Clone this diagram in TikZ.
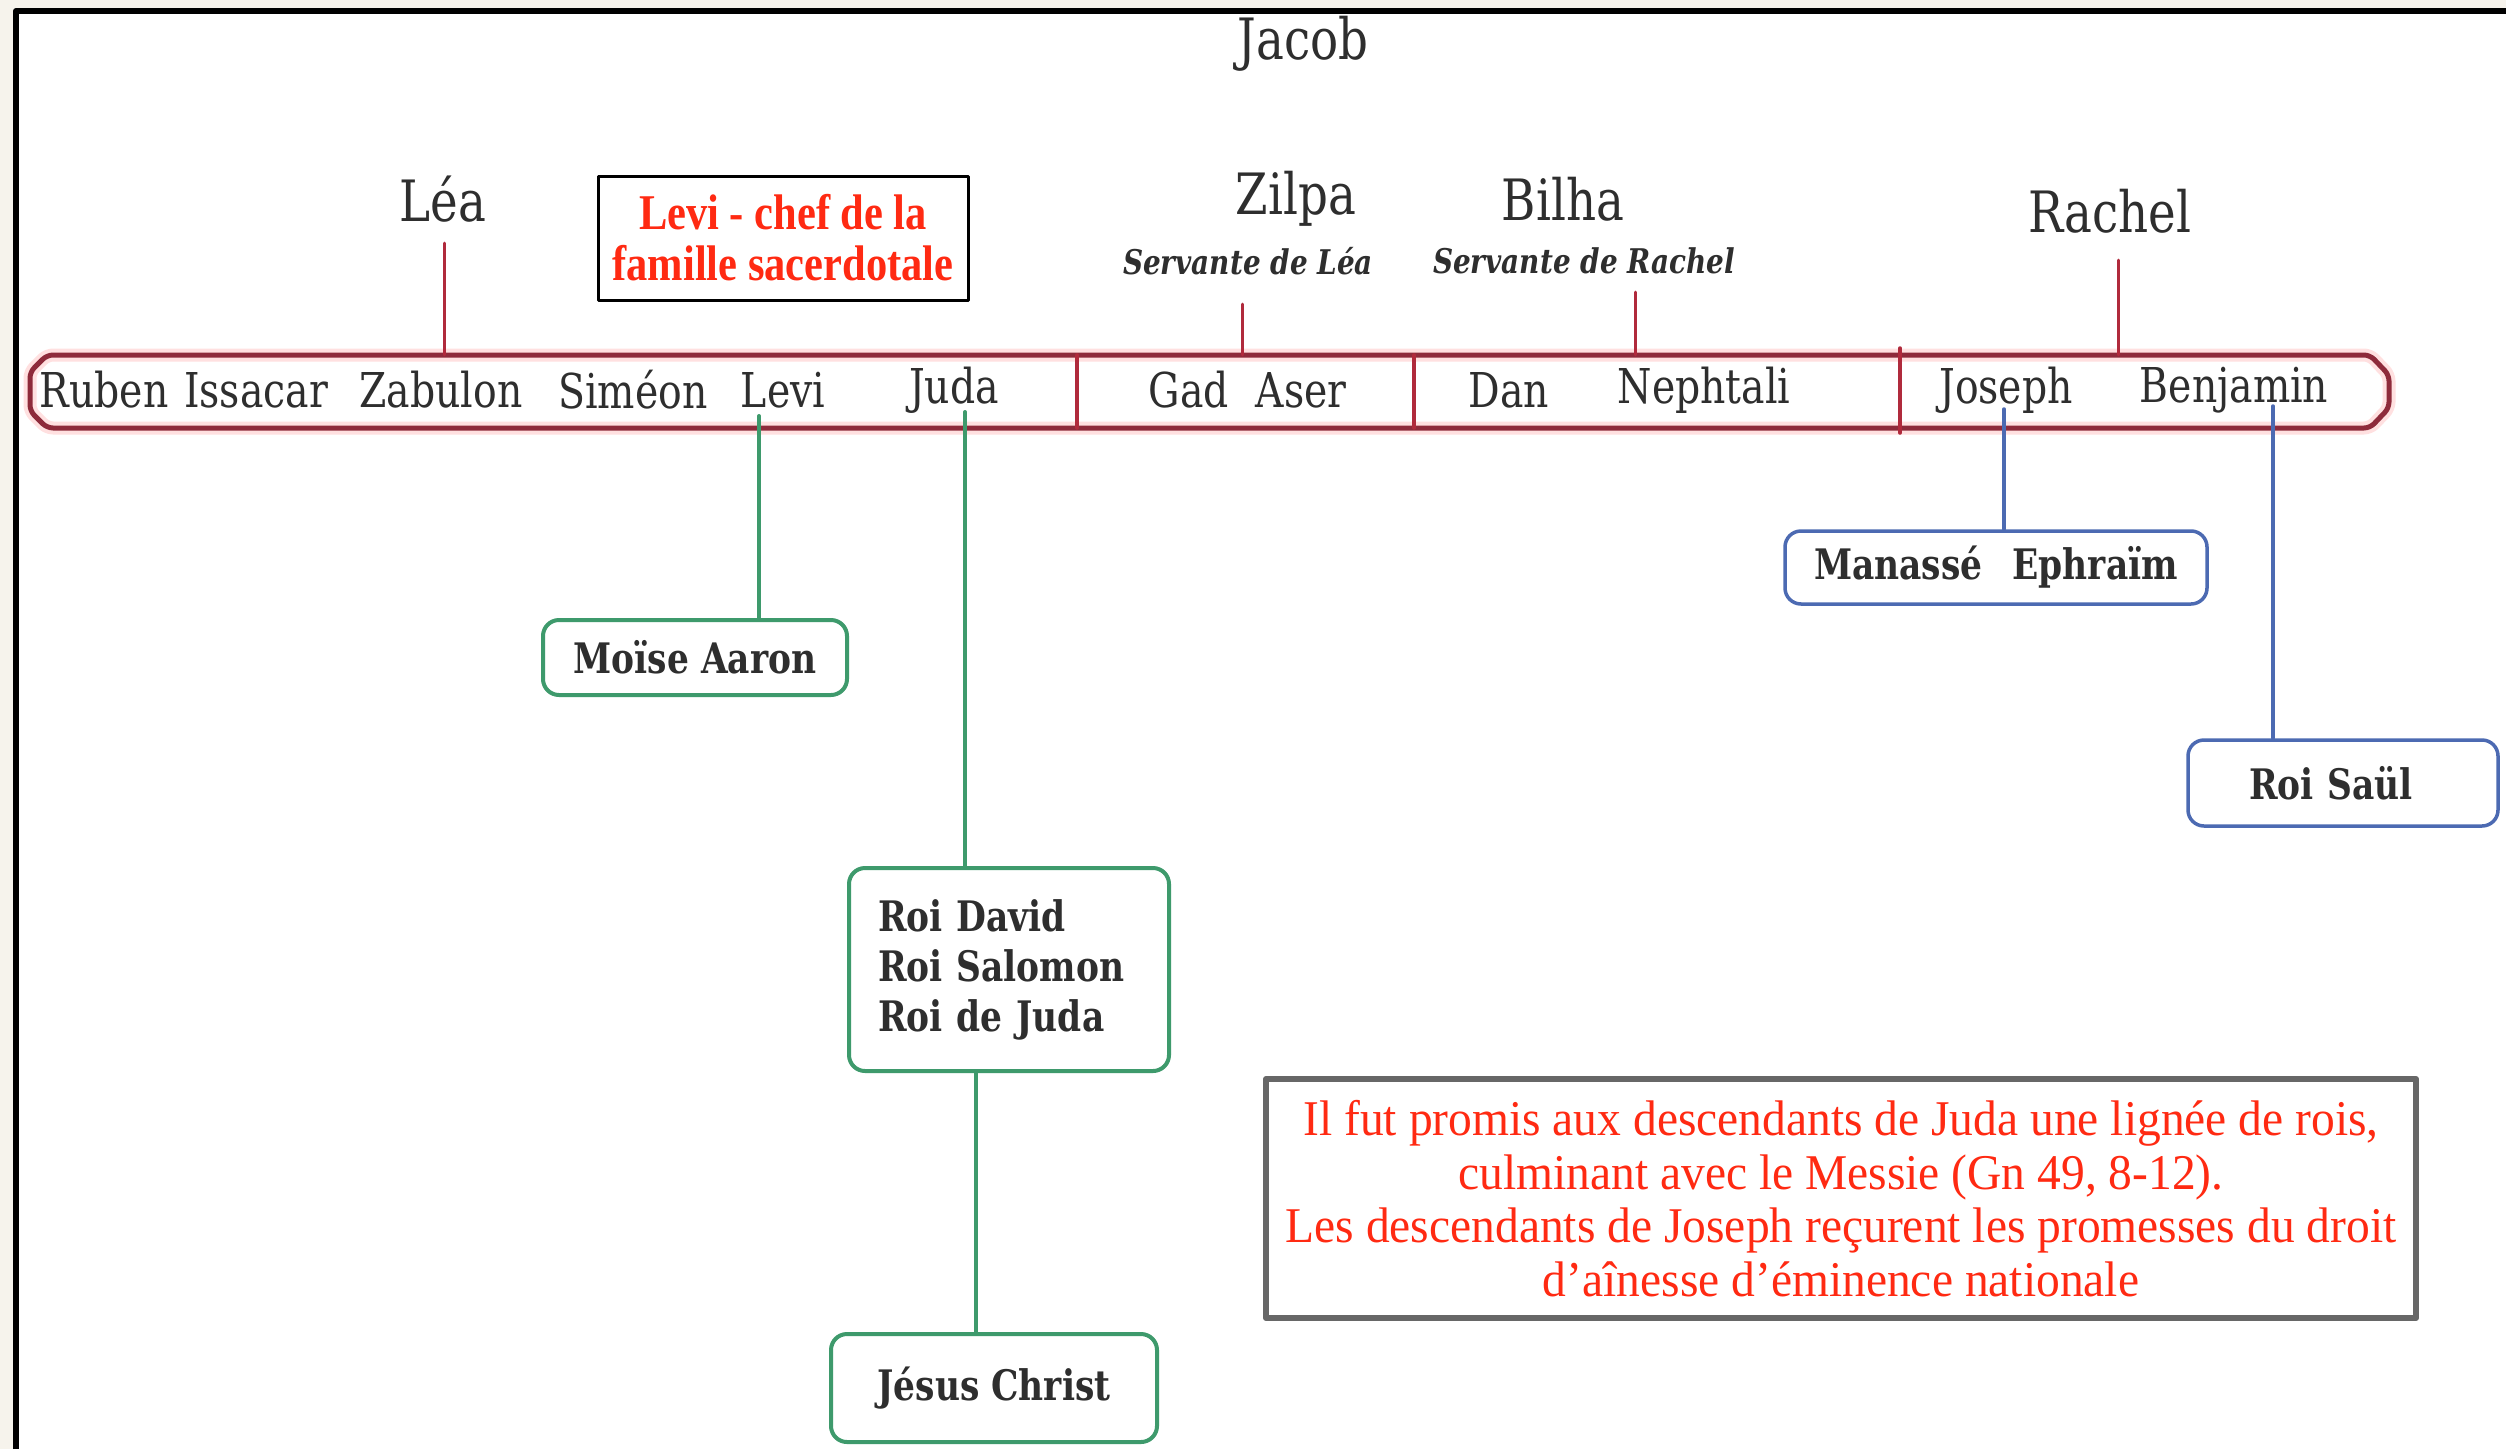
\documentclass[tikz,border=0pt]{standalone}
\usepackage{fontspec}
\setmainfont{DejaVu Serif}[FakeStretch=0.82]
\newfontfamily\notefont{Liberation Serif}[FakeStretch=0.85]
\newfontfamily\notewide{Liberation Serif}[FakeStretch=0.95]
\definecolor{namegray}{HTML}{2E2E2E}
\definecolor{barred}{HTML}{8E2B3B}
\definecolor{linkred}{HTML}{B02A3C}
\definecolor{kinggreen}{HTML}{3E9A6C}
\definecolor{tribeblue}{HTML}{4C6AB2}
\definecolor{notered}{HTML}{FF2A12}
\definecolor{notegray}{HTML}{676767}
\definecolor{paper}{HTML}{F6F3EC}
\tikzset{
  person/.style={text=namegray, inner sep=0pt, font=\fontsize{48}{54}\selectfont},
  mother/.style={text=namegray, inner sep=0pt, font=\fontsize{57}{62}\selectfont},
  servante/.style={text=namegray, inner sep=0pt, font=\fontsize{34}{38}\selectfont\bfseries\itshape},
  descbox/.style={rounded corners=16pt, line width=4pt, fill=white, text=namegray, inner sep=0pt, font=\fontsize{42}{50}\selectfont\bfseries},
  greenbox/.style={descbox, draw=kinggreen},
  bluebox/.style={descbox, draw=tribeblue, line width=3.5pt},
  greenline/.style={draw=kinggreen, line width=4pt},
  blueline/.style={draw=tribeblue, line width=3.5pt},
  redlink/.style={draw=linkred, line width=3pt},
  redtext/.style={text=notered, align=center}
}
\begin{document}
\begin{tikzpicture}[x=1pt, y=-1pt, line join=round, line cap=round]
	\useasboundingbox (0,0) rectangle (2506,1449);
	\fill[paper] (0,0) rectangle (2506,1449);
	\fill[white] (16,11) rectangle (2506,1449);
	\draw[line width=6pt, line cap=butt] (16,1449)--(16,11)--(2506,11);
	% Jacob et les meres
	\node[mother] (jacob) at (1303,44) {Jacob};
	\node[mother] (lea) at (443,199) {Léa};
	\node[mother] (zilpa) at (1296,199) {Zilpa};
	\node[mother] (bilha) at (1563,199) {Bilha};
	\node[mother] (rachel) at (2110,211) {Rachel};
	\node[servante] (servlea) at (1248,261) {Servante de Léa};
	\node[servante] (servrachel) at (1584,261) {Servante de Rachel};
	\node[draw=black, line width=3pt, minimum width=370pt, minimum height=124pt, redtext,
		font=\notefont\bfseries\fontsize{50}{51}\selectfont] (levichef) at (783,238) {Levi - chef de la\\famille sacerdotale};
	% la barre des douze fils
	\node[inner sep=0pt, minimum width=2362pt, minimum height=73pt] (bar) at (1208,391.5) {};
	\draw[red!12, line width=13pt, rounded corners=6pt] (47,355)--(2370,355)--(2389,375)--(2389,408)--(2370,428)--(47,428)--(30,411)--(30,372)--cycle;
	\draw[barred, line width=5pt, rounded corners=6pt] (47,355)--(2370,355)--(2389,375)--(2389,408)--(2370,428)--(47,428)--(30,411)--(30,372)--cycle;
	\draw[linkred, line width=3.5pt] (1077,355)--(1077,428);
	\draw[linkred, line width=3.5pt] (1414,355)--(1414,428);
	\draw[linkred, line width=3.5pt] (1900,348)--(1900,433);
	\foreach \n/\t/\x in {ruben/Ruben/104, issacar/Issacar/256, zabulon/Zabulon/441, simeon/Siméon/633,
		levi/Levi/783, juda/Juda/954, gad/Gad/1189, aser/Aser/1301, dan/Dan/1509,
		nephtali/Nephtali/1704, joseph/Joseph/2006, benjamin/Benjamin/2234}
		\node[person] (\n) at (\x,390) {\t};
	% liens meres - fils
	\coordinate (lea-foot) at (444,243);
	\coordinate (zilpa-foot) at (1242,304);
	\coordinate (bilha-foot) at (1635,292);
	\coordinate (rachel-foot) at (2118,260);
	\foreach \m in {lea,zilpa,bilha,rachel}
		\draw[redlink] (\m-foot)--(\m-foot |- bar.north);
	% descendants
	\node[greenbox, minimum width=304pt, minimum height=75pt] (moise) at (695,657.5) {Moïse Aaron};
	\node[greenbox, anchor=west, minimum height=203pt, text width=262pt, inner xsep=29pt, align=left] (rois) at (847,969.5) {Roi David\\Roi Salomon\\Roi de Juda};
	\node[greenbox, minimum width=326pt, minimum height=108pt] (jesus) at (994,1388) {Jésus Christ};
	\node[bluebox, minimum width=422pt, minimum height=73pt] (manasse) at (1996,567.5) {Manassé\hspace{30pt}Ephraïm};
	\node[bluebox, minimum width=310pt, minimum height=86pt, text width=250pt, align=center] (saul) at (2343,783) {Roi Saül\hspace*{24pt}};
	\coordinate (levi-foot) at (759,416);
	\coordinate (juda-foot) at (965,412);
	\coordinate (rois-foot) at (976,1071);
	\coordinate (joseph-foot) at (2004,409);
	\coordinate (benjamin-foot) at (2273,406);
	\draw[greenline] (levi-foot)--(levi-foot |- moise.north);
	\draw[greenline] (juda-foot)--(juda-foot |- rois.north);
	\draw[greenline] (rois-foot)--(rois-foot |- jesus.north);
	\draw[blueline] (joseph-foot)--(joseph-foot |- manasse.north);
	\draw[blueline] (benjamin-foot)--(benjamin-foot |- saul.north);
	% la note
	\node[draw=notegray, line width=6pt, minimum width=1150pt, minimum height=239pt, redtext,
		font=\notewide\fontsize{50}{53.5}\selectfont] (note) at (1841,1198.5)
		{Il fut promis aux descendants de Juda une lignée de rois,\\culminant avec le Messie (Gn 49, 8-12).\\Les descendants de Joseph reçurent les promesses du droit\\d’aînesse d’éminence nationale};
\end{tikzpicture}
\end{document}
